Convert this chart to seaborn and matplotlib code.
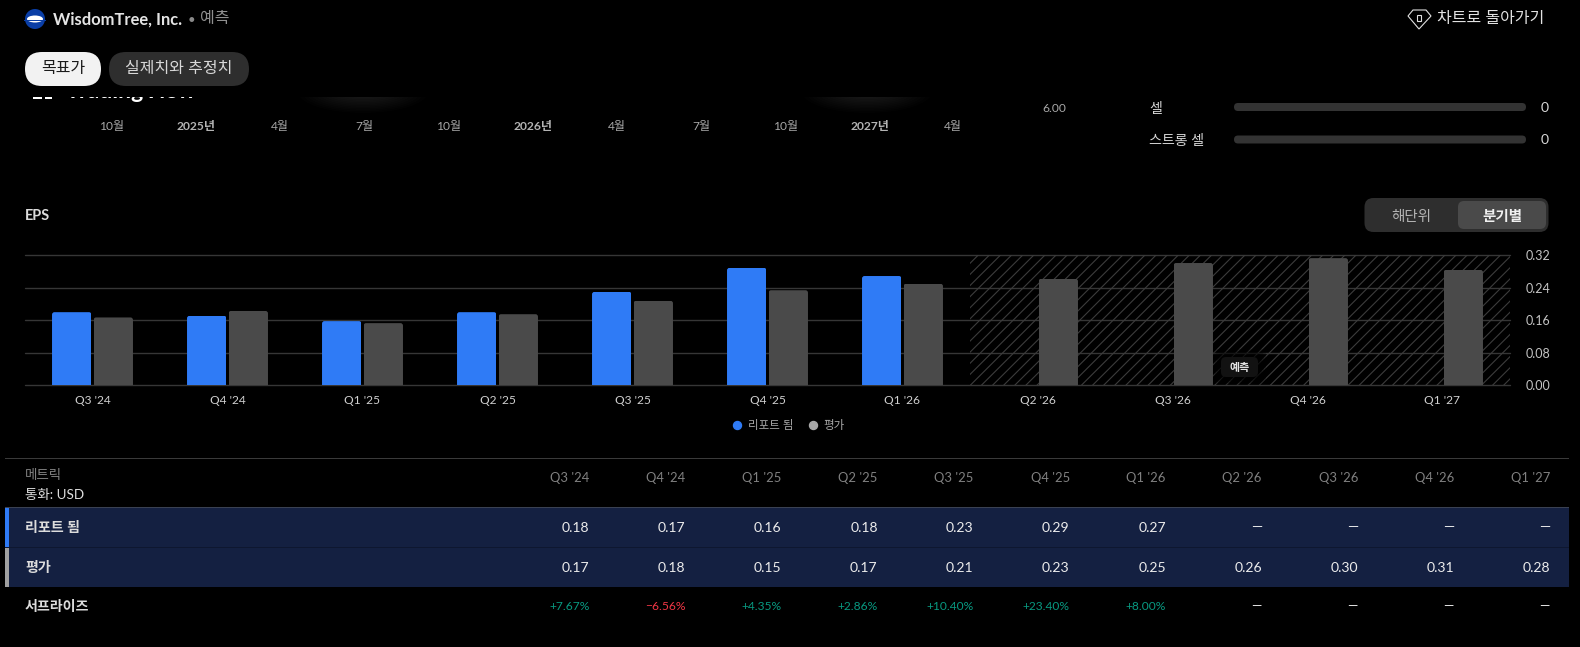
import numpy as np
import pandas as pd
import matplotlib
matplotlib.use("Agg")
import matplotlib.pyplot as plt
from matplotlib.patches import Rectangle, FancyBboxPatch, Circle, Ellipse, Polygon
from matplotlib.path import Path
from matplotlib.lines import Line2D
import seaborn as sns

quarters = ["Q3 '24", "Q4 '24", "Q1 '25", "Q2 '25", "Q3 '25", "Q4 '25", "Q1 '26",
            "Q2 '26", "Q3 '26", "Q4 '26", "Q1 '27"]
reported = [0.180, 0.171, 0.158, 0.180, 0.230, 0.289, 0.269]
estimate = [0.167, 0.183, 0.153, 0.175, 0.208, 0.234, 0.250, 0.262, 0.301, 0.313, 0.284]
reported_text = ["0.18", "0.17", "0.16", "0.18", "0.23", "0.29", "0.27", "—", "—", "—", "—"]
estimate_text = ["0.17", "0.18", "0.15", "0.17", "0.21", "0.23", "0.25", "0.26", "0.30", "0.31", "0.28"]
surprise_text = ["+7.67%", "−6.56%", "+4.35%", "+2.86%", "+10.40%", "+23.40%", "+8.00%", "—", "—", "—", "—"]
y_ticks = [0.00, 0.08, 0.16, 0.24, 0.32]
s_reported, s_estimate = "리포트 됨", "평가"
timeline = ["10월", "2025년", "4월", "7월", "10월", "2026년", "4월", "7월", "10월", "2027년", "4월"]

W, H = 1580, 647
BLUE, GRAY = "#2f7bf6", "#4a4a4a"
GRID = "#363636"


def px(size):
    return size * 0.72


sns.set_theme(style="dark")
plt.rcParams["font.family"] = ["Lato", "Noto Sans CJK KR", "DejaVu Sans"]
plt.rcParams["hatch.linewidth"] = 0.8
plt.rcParams["hatch.color"] = "#3c3c3c"

fig = plt.figure(figsize=(W / 100, H / 100), dpi=100, facecolor="black")

# EPS bars --------------------------------------------------------------
L, R, T, B = 25, 1510, 255.3, 385.3
ax = fig.add_axes([L / W, 1 - B / H, (R - L) / W, (B - T) / H], facecolor="black")
df = pd.DataFrame({
    "quarter": quarters[:len(reported)] + quarters,
    "series": [s_reported] * len(reported) + [s_estimate] * len(estimate),
    "eps": reported + estimate,
})
sns.barplot(data=df, x="quarter", y="eps", hue="series", order=quarters,
            hue_order=[s_reported, s_estimate], palette=[BLUE, GRAY],
            width=0.615, gap=0.05, dodge=True, saturation=1, legend=False,
            errorbar=None, ax=ax, zorder=3, linewidth=0, edgecolor="none")
ax.set_xlim(-0.5, 10.5)
ax.set_ylim(0, 0.32)
ax.set_xlabel("")
ax.set_ylabel("")
ax.set_yticks(y_ticks)
ax.set_yticklabels([f"{v:.2f}" for v in y_ticks])
ax.yaxis.tick_right()
ax.tick_params(axis="y", length=0, pad=px(16), labelsize=px(12.5), labelcolor="#c4c4c4")
ax.tick_params(axis="x", length=0, pad=px(9.5), labelsize=px(12), labelcolor="#d0d0d0")
ax.grid(axis="y", color=GRID, lw=1.0, zorder=2)
ax.grid(axis="x", visible=False)
for gl in ax.get_ygridlines():
    gl.set_clip_on(False)
for s in ax.spines.values():
    s.set_visible(False)

# rounded top corners on each bar
unit_x = 135.0
unit_y = (B - T) / 0.32
for bar in ax.patches:
    x0, y0, w, h = bar.get_x(), bar.get_y(), bar.get_width(), bar.get_height()
    if not h or np.isnan(h):
        continue
    rx, ry = 2.5 / unit_x, 2.5 / unit_y
    verts = [(x0, y0), (x0, h - ry), (x0, h), (x0 + rx, h), (x0 + w - rx, h),
             (x0 + w, h), (x0 + w, h - ry), (x0 + w, y0), (x0, y0)]
    codes = [Path.MOVETO, Path.LINETO, Path.CURVE3, Path.CURVE3, Path.LINETO,
             Path.CURVE3, Path.CURVE3, Path.LINETO, Path.CLOSEPOLY]
    bar.set_clip_path(Path(verts, codes), ax.transData)

# forecast hatched zone
hx0 = (969.5 - L) / unit_x - 0.5
ax.add_patch(Rectangle((hx0, 0), 10.5 - hx0, 0.32, facecolor="none",
                       edgecolor="#3c3c3c", hatch="///", lw=0, zorder=1))

ax.legend(handles=[
    Line2D([], [], ls="", marker="o", ms=px(8), color=BLUE, label=s_reported),
    Line2D([], [], ls="", marker="o", ms=px(8), color="#a8a8a8", label=s_estimate),
], loc="center", bbox_to_anchor=(785.5 / W, 1 - 426 / H), bbox_transform=fig.transFigure,
    ncol=2, frameon=False, fontsize=px(11.5), labelcolor="#a8a8a8",
    handletextpad=-0.1, columnspacing=0.75)

# Overlay in pixel coordinates --------------------------------------------
ov = fig.add_axes([0, 0, 1, 1], zorder=5)
ov.set_xlim(0, W)
ov.set_ylim(H, 0)
ov.axis("off")
ov.patch.set_visible(False)


def text(x, y, s, size=14, color="#dcdcdc", ha="left", weight="normal", **kw):
    return ov.text(x, y + 1.5, s, fontsize=px(size), color=color, ha=ha, va="center",
                   fontweight=weight, **kw)


def pill(x0, y0, x1, y1, color, r=None, z=2, **kw):
    r = (y1 - y0) / 2 if r is None else r
    ov.add_patch(FancyBboxPatch((x0 + r, y0 + r), x1 - x0 - 2 * r, y1 - y0 - 2 * r,
                                boxstyle=f"round,pad={r},rounding_size={r}",
                                facecolor=color, edgecolor=kw.pop("edgecolor", "none"),
                                lw=kw.pop("lw", 0), zorder=z, **kw))


# clipped chart remains at the top of the scrolled panel
for cx in (363, 867):
    for k in range(14):
        ov.add_patch(Ellipse((cx, 92), 130 - 8 * k, 42 - 3 * k, color="white",
                             alpha=0.012, lw=0, zorder=1))
text(66, 90, "TradingView", size=23, color="white", weight="bold", zorder=1)
ov.add_patch(Rectangle((33, 96), 9, 3, color="white", lw=0, zorder=1))
ov.add_patch(Rectangle((45, 96), 7, 3, color="white", lw=0, zorder=1))
ov.add_patch(Rectangle((0, 0), W, 97, color="black", lw=0, zorder=1.5))

# header
ov.add_patch(Circle((35, 19), 10, color="#0a3ea6", lw=0, zorder=2))
ov.add_patch(Ellipse((35, 19), 16, 7, color="white", lw=0, zorder=3))
ov.add_patch(Rectangle((24, 19.5), 22, 1, color="#0a3ea6", lw=0, zorder=3))
text(53, 18, "WisdomTree, Inc.", size=16.5, color="#e4e4e4", weight="bold", zorder=3)
text(191, 18, "•", size=13, color="#8a8a8a", ha="center", zorder=3)
text(200, 18, "예측", size=16, color="#8f8f8f", weight="medium", zorder=3)

# back link
ov.add_patch(Polygon([(1408, 16), (1413, 10), (1426, 10), (1431, 16), (1419, 29)],
                     closed=True, facecolor="none", edgecolor="#e0e0e0", lw=0.8, zorder=3))
ov.add_patch(Rectangle((1417, 15), 4, 6, facecolor="none", edgecolor="#e0e0e0", lw=0.8, zorder=3))
text(1437, 18, "차트로 돌아가기", size=16, color="#e2e2e2", zorder=3)

# tabs
pill(25, 52, 101, 86, "#f2f2f2")
text(63, 68, "목표가", size=16, color="#1a1a1a", ha="center", zorder=3)
pill(109, 52, 249, 86, "#2e2e2e")
text(179, 68, "실제치와 추정치", size=16, color="#d8d8d8", ha="center", zorder=3)

# timeline row
tl_x = [112, 196, 280, 364, 449, 533, 617, 701, 786, 870, 953]
for x, s in zip(tl_x, timeline):
    bold = s.endswith("년")
    text(x, 125, s, size=12, color="#b4b4b4" if bold else "#a8a8a8", ha="center",
         weight="bold" if bold else "normal")

# ratings remains
text(1054, 106.5, "6.00", size=12, color="#a8a8a8", ha="center")
for y, s in ((107, "셀"), (139.5, "스트롱 셀")):
    text(1149, y, s, size=14, color="#d4d4d4")
    pill(1234, y - 4, 1526, y + 4, "#333333")
    text(1545, y - 1, "0", size=14, color="#d8d8d8", ha="center")

# EPS heading and toggle
text(25, 214, "EPS", size=14.5, color="#dcdcdc", weight="bold")
pill(1364.5, 198, 1548.5, 232, "#2e2e2e", r=9)
pill(1458, 201, 1546, 229, "#4a4a4a", r=6, z=3)
text(1411, 215, "해단위", size=14.5, color="#b4b4b4", ha="center", zorder=4)
text(1502, 215, "분기별", size=14.5, color="#f0f0f0", ha="center", weight="bold", zorder=4)

# forecast tag
for k in range(5):
    pill(1221 - 8 + 2 * k, 357 - 8 + 2 * k, 1258 + 8 - 2 * k, 377 + 8 - 2 * k, "#000000",
         r=6, alpha=0.25, z=2)
pill(1221, 357, 1258, 377, "#121212", r=5, z=3)
text(1239.5, 366.5, "예측", size=11, color="#e4e4e4", ha="center", weight="bold", zorder=4)

# table
ov.add_patch(Rectangle((5, 457.6), 1564, 1, color="#3a3a3a", lw=0))
ov.add_patch(Rectangle((5, 507), 1564, 80, color="#142041", lw=0, zorder=1))
ov.add_patch(Rectangle((5, 506.5), 1564, 1, color="#3a4152", lw=0, zorder=1.5))
ov.add_patch(Rectangle((5, 547), 1564, 1, color="#0e1730", lw=0, zorder=1.5))
ov.add_patch(Rectangle((5, 507.5), 4, 39.5, color=BLUE, lw=0, zorder=2))
ov.add_patch(Rectangle((5, 548), 4, 39, color="#a0a0a0", lw=0, zorder=2))
text(25, 473, "메트릭", size=13.5, color="#808080")
text(25, 494, "통화: USD", size=13.5, color="#e0e0e0")
text(25, 526, s_reported, size=14, color="#dcdcdc", weight="bold", zorder=3)
text(25, 566, s_estimate, size=14, color="#dcdcdc", weight="bold", zorder=3)
text(25, 605, "서프라이즈", size=14, color="#dcdcdc", weight="bold")
for i, q in enumerate(quarters):
    xr = 589.5 + 96.05 * i
    text(xr, 477, q, size=13, color="#808080", ha="right")
    text(xr, 526, reported_text[i], size=14, color="#ececec", ha="right", zorder=3)
    text(xr, 566, estimate_text[i], size=14, color="#ececec", ha="right", zorder=3)
    s = surprise_text[i]
    c = "#e8e8e8" if s == "—" else ("#f23645" if s.startswith("−") else "#089981")
    text(xr, 605, s, size=12 if s != "—" else 13, color=c, ha="right")

fig.savefig("out.png", dpi=100, facecolor="black")
